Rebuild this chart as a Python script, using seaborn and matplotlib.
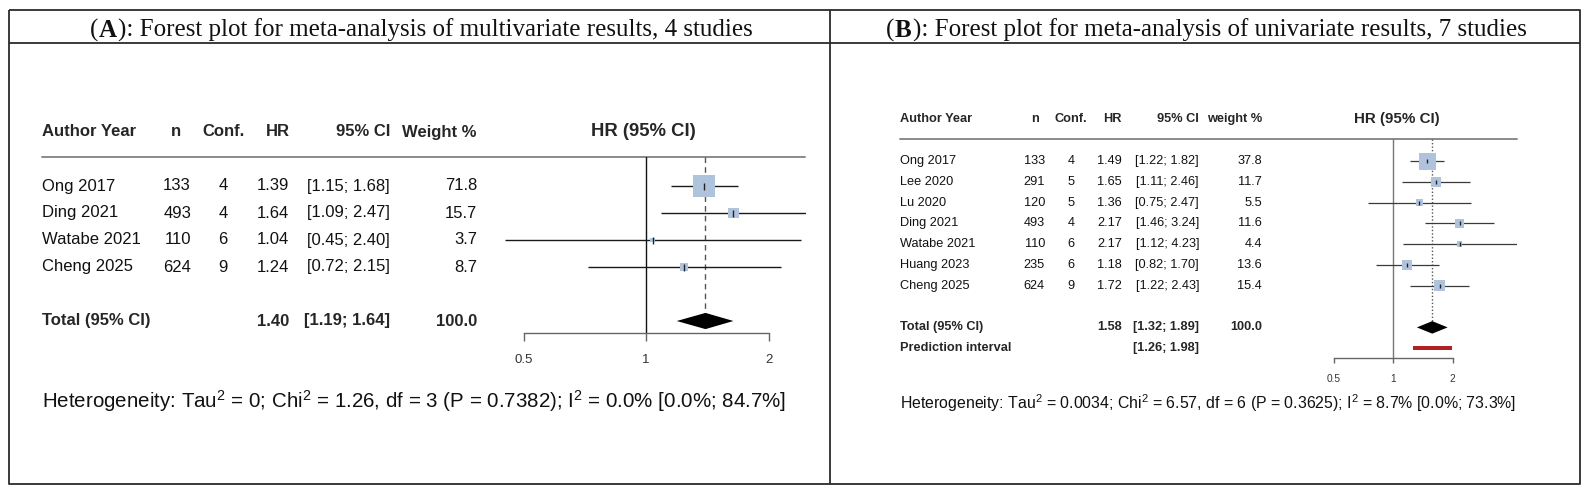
import matplotlib
matplotlib.use("Agg")
import matplotlib.pyplot as plt
from matplotlib.ticker import NullLocator
import numpy as np
import pandas as pd
import seaborn as sns

W, H = 1587, 495

# Panel A: multivariate results, 4 studies
a_title = ["(", "A", "): Forest plot for meta-analysis of multivariate results, 4 studies"]
a_cols = ["Author Year", "n", "Conf.", "HR", "95% CI", "Weight %"]
a_study = ["Ong 2017", "Ding 2021", "Watabe 2021", "Cheng 2025"]
a_n = [133, 493, 110, 624]
a_conf = [4, 4, 6, 9]
a_hr = [1.39, 1.64, 1.04, 1.24]
a_lo = [1.15, 1.09, 0.45, 0.72]
a_hi = [1.68, 2.47, 2.40, 2.15]
a_weight = [71.8, 15.7, 3.7, 8.7]
a_pooled = [1.40, 1.19, 1.64]
a_total_weight = 100.0
a_het = r"Heterogeneity: Tau$^2$ = 0; Chi$^2$ = 1.26, df = 3 (P = 0.7382); I$^2$ = 0.0% [0.0%; 84.7%]"

# Panel B: univariate results, 7 studies
b_title = ["(", "B", "): Forest plot for meta-analysis of univariate results, 7 studies"]
b_cols = ["Author Year", "n", "Conf.", "HR", "95% CI", "weight %"]
b_study = ["Ong 2017", "Lee 2020", "Lu 2020", "Ding 2021", "Watabe 2021", "Huang 2023", "Cheng 2025"]
b_n = [133, 291, 120, 493, 110, 235, 624]
b_conf = [4, 5, 5, 4, 6, 6, 9]
b_hr = [1.49, 1.65, 1.36, 2.17, 2.17, 1.18, 1.72]
b_lo = [1.22, 1.11, 0.75, 1.46, 1.12, 0.82, 1.22]
b_hi = [1.82, 2.46, 2.47, 3.24, 4.23, 1.70, 2.43]
b_weight = [37.8, 11.7, 5.5, 11.6, 4.4, 13.6, 15.4]
b_pooled = [1.58, 1.32, 1.89]
b_total_weight = 100.0
b_pred = [1.26, 1.98]
b_het = r"Heterogeneity: Tau$^2$ = 0.0034; Chi$^2$ = 6.57, df = 6 (P = 0.3625); I$^2$ = 8.7% [0.0%; 73.3%]"

ticks = [0.5, 1, 2]
tick_labels = ["0.5", "1", "2"]

SQUARE = "#afc3dd"
PI_RED = "#b22222"

sns.set_theme(style="white")
plt.rcParams["font.family"] = ["Liberation Sans", "DejaVu Sans"]
plt.rcParams["mathtext.fontset"] = "custom"
plt.rcParams["mathtext.rm"] = "Liberation Sans"
plt.rcParams["mathtext.it"] = "Liberation Sans:italic"
plt.rcParams["mathtext.bf"] = "Liberation Sans:bold"


def pt(px):
    # pixels -> points at 100 dpi
    return px * 0.72


lay_a = dict(
    head_x=[42, 176, 223.5, 290, 390, 477], head_ha=["left", "center", "center", "right", "right", "right"],
    val_x=[42, 191, 223, 289, 390, 477], val_ha=["left", "right", "center", "right", "right", "right"],
    y_head=132, y_line=157, y0=186, dy=27, total_row=5, line_x=(42, 805),
    one_x=646, k=122.5, xlim=(0.42, 2.47), y_axis=333, tick_len=8, tick_pad=13,
    fs=12, fs_hr=13.3, fs_tick=9.5, fs_het=14.8, het_xy=(42, 408), hr_head_x=643,
    sq_max=22, mark_h=7, lw=1.0, ci_col="#1a1a1a", ref_col="#111111", pool_ls=(0, (4, 3)),
    title_cx=420,
)
lay_b = dict(
    head_x=[900, 1034.5, 1071, 1122, 1199, 1262], head_ha=["left", "center", "center", "right", "right", "right"],
    val_x=[900, 1045, 1071, 1122, 1199, 1262], val_ha=["left", "right", "center", "right", "right", "right"],
    y_head=119, y_line=139, y0=161, dy=20.8, total_row=8, line_x=(900, 1517),
    one_x=1393, k=59.5, xlim=(0.45, 4.25), y_axis=358, tick_len=5, tick_pad=11,
    fs=9.2, fs_hr=10.9, fs_tick=7.3, fs_het=11.4, het_xy=(900, 409), hr_head_x=1397,
    sq_max=17, mark_h=5, lw=0.9, ci_col="#3a3a3a", ref_col="#777777", pool_ls=(0, (1, 1.5)),
    title_cx=1205,
)

fig = plt.figure(figsize=(W / 100, H / 100), dpi=100)
fig.patch.set_facecolor("white")

# overlay in pixel units for frame, titles and table text
ov = fig.add_axes([0, 0, 1, 1])
ov.set_xlim(0, W)
ov.set_ylim(H, 0)
ov.axis("off")

frame = dict(color="#2b2b2b", lw=1.3, solid_capstyle="butt")
ov.plot([9, 1580, 1580, 9, 9], [10, 10, 484, 484, 10], **frame)
ov.plot([9, 1580], [43, 43], **frame)
ov.plot([830, 830], [10, 484], **frame)


def table(lay, cols, study, n, conf, hr, lo, hi, weight, pooled, total_weight, het, pred=None):
    fs = lay["fs"]
    for label, x, ha in zip(cols, lay["head_x"], lay["head_ha"]):
        ov.text(x, lay["y_head"], label, ha=ha, va="center", fontsize=fs, fontweight="bold")
    ov.text(lay["hr_head_x"], lay["y_head"], "HR (95% CI)", ha="center", va="center",
            fontsize=lay["fs_hr"], fontweight="bold")
    ov.plot(lay["line_x"], [lay["y_line"]] * 2, color="#8a8a8a", lw=1.4)

    for i in range(len(study)):
        y = lay["y0"] + i * lay["dy"]
        vals = [study[i], str(n[i]), str(conf[i]), f"{hr[i]:.2f}",
                f"[{lo[i]:.2f}; {hi[i]:.2f}]", f"{weight[i]:.1f}"]
        for v, x, ha in zip(vals, lay["val_x"], lay["val_ha"]):
            ov.text(x, y, v, ha=ha, va="center", fontsize=fs, color="#111111")

    y = lay["y0"] + lay["total_row"] * lay["dy"]
    tot = ["Total (95% CI)", "", "", f"{pooled[0]:.2f}",
           f"[{pooled[1]:.2f}; {pooled[2]:.2f}]", f"{total_weight:.1f}"]
    for v, x, ha in zip(tot, lay["val_x"], lay["val_ha"]):
        ov.text(x, y, v, ha=ha, va="center", fontsize=fs, fontweight="bold")
    if pred is not None:
        y = lay["y0"] + (lay["total_row"] + 1) * lay["dy"]
        ov.text(lay["val_x"][0], y, "Prediction interval", ha="left", va="center",
                fontsize=fs, fontweight="bold")
        ov.text(lay["val_x"][4], y, f"[{pred[0]:.2f}; {pred[1]:.2f}]", ha="right",
                va="center", fontsize=fs, fontweight="bold")

    ov.text(lay["het_xy"][0], lay["het_xy"][1], het, ha="left", va="baseline",
            fontsize=lay["fs_het"], color="#111111")


def forest(lay, hr, lo, hi, weight, pooled, pred=None):
    top, bot = lay["y_line"], lay["y_axis"]
    xmin, xmax = lay["xlim"]
    left = lay["one_x"] + np.log2(xmin) * lay["k"]
    right = lay["one_x"] + np.log2(xmax) * lay["k"]
    ax = fig.add_axes([left / W, 1 - bot / H, (right - left) / W, (bot - top) / H])
    ax.patch.set_alpha(0)
    ax.set_xscale("log", base=2)
    ax.set_xlim(xmin, xmax)
    y0, dy = lay["y0"], lay["dy"]
    ax.set_ylim((bot - y0) / dy, (top - y0) / dy)

    rows = np.arange(len(hr))
    ax.axvline(1, color=lay["ref_col"], lw=1, zorder=1)
    r = lay["total_row"]
    h = 0.3
    p, plo, phi = pooled
    ax.plot([p, p], [(top - y0) / dy, r - h], color="#555555", lw=1, ls=lay["pool_ls"], zorder=1)

    ax.hlines(rows, lo, hi, color=lay["ci_col"], lw=lay["lw"], zorder=2)
    w = np.asarray(weight)
    sizes = (pt(lay["sq_max"]) * np.sqrt(w / w.max())) ** 2
    df = pd.DataFrame({"hr": hr, "row": rows})
    sns.scatterplot(data=df, x="hr", y="row", s=sizes, marker="s", color=SQUARE,
                    linewidth=0, legend=False, ax=ax, zorder=3)
    ax.plot(hr, rows, ls="none", marker="|", ms=pt(lay["mark_h"]), mew=1,
            color="#222222", zorder=4)

    ax.fill([plo, p, phi, p], [r, r - h, r, r + h], color="black", lw=0, zorder=4)
    if pred is not None:
        r2 = r + 1
        ax.fill_between(pred, r2 - 0.1, r2 + 0.1, color=PI_RED, lw=0, zorder=4)

    for s in ["top", "right", "left"]:
        ax.spines[s].set_visible(False)
    ax.spines["bottom"].set_bounds(0.5, 2)
    ax.spines["bottom"].set_color("#666666")
    ax.spines["bottom"].set_linewidth(1)
    ax.set_xticks(ticks)
    ax.set_xticklabels(tick_labels)
    ax.xaxis.set_minor_locator(NullLocator())
    ax.tick_params(axis="x", bottom=True, direction="out", length=pt(lay["tick_len"]),
                   width=1, color="#666666", labelsize=lay["fs_tick"],
                   labelcolor="#333333", pad=pt(lay["tick_pad"]))
    ax.set_yticks([])
    ax.set_xlabel("")
    ax.set_ylabel("")
    return ax


table(lay_a, a_cols, a_study, a_n, a_conf, a_hr, a_lo, a_hi, a_weight, a_pooled, a_total_weight, a_het)
forest(lay_a, a_hr, a_lo, a_hi, a_weight, a_pooled)
table(lay_b, b_cols, b_study, b_n, b_conf, b_hr, b_lo, b_hi, b_weight, b_pooled, b_total_weight, b_het, b_pred)
forest(lay_b, b_hr, b_lo, b_hi, b_weight, b_pooled, b_pred)


def title(parts, cx, y, fs):
    kw = dict(fontsize=fs, family=["Liberation Serif", "DejaVu Serif"], va="baseline", color="#111111")
    texts = [ov.text(0, y, s, fontweight="bold" if i == 1 else "normal", **kw)
             for i, s in enumerate(parts)]
    fig.canvas.draw()
    rend = fig.canvas.get_renderer()
    widths = [t.get_window_extent(rend).width for t in texts]
    x = cx - sum(widths) / 2
    for t, wd in zip(texts, widths):
        t.set_x(x)
        x += wd + 1


title(a_title, lay_a["title_cx"], 37, 18)
title(b_title, lay_b["title_cx"], 37, 18)

fig.savefig("out.png", dpi=100, facecolor="white")
